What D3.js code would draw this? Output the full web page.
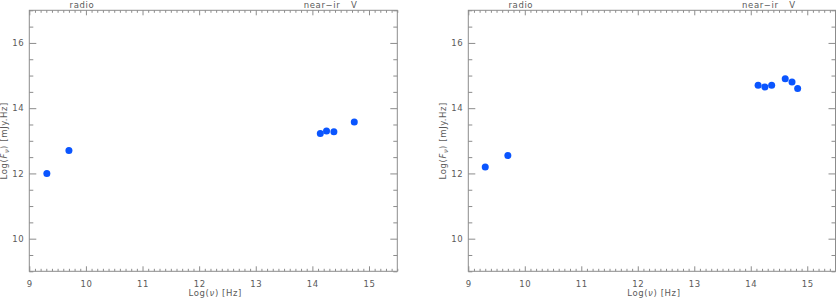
<!DOCTYPE html>
<html><head><meta charset="utf-8">
<script src="https://cdn.jsdelivr.net/npm/d3@7"></script>
<style>
body{margin:0;background:#fff;}
svg{display:block;}
text{font-family:"DejaVu Sans",sans-serif;fill:#5a5a5a;letter-spacing:0.6px;}
</style></head>
<body>
<svg id="c" width="836" height="299"></svg>
<script>
// Data
const xTicks = [9,10,11,12,13,14,15];
const yTicks = [10,12,14,16];
const bandNames = ["radio","near−ir","V"];
const bandPos = [9.93,14.17,14.74];
const leftLogNu  = [9.31,9.70,14.14,14.25,14.38,14.74];
const leftLogF   = [12.00,12.70,13.22,13.30,13.28,13.58];
const rightLogNu = [9.30,9.70,14.13,14.25,14.37,14.61,14.73,14.83];
const rightLogF  = [12.20,12.55,14.70,14.65,14.70,14.90,14.80,14.60];

const svg = d3.select("#c");
const axisCol = "#8c8c8c";
const panels = [
  {x0:29.3, x1:397.3, nu:leftLogNu, f:leftLogF},
  {x0:468.3, x1:835.5, nu:rightLogNu, f:rightLogF}
];
const yTop = 10.3, yBot = 271.3;
const minorX = d3.range(90,156).map(d=>d/10).filter(d=>Math.abs(d-Math.round(d))>1e-6);
const minorY = d3.range(9,17.01,0.5).filter(d=>d%2!==0);

panels.forEach(p=>{
  const x = d3.scaleLinear().domain([9,15.5]).range([p.x0,p.x1]);
  const y = d3.scaleLinear().domain([9,17]).range([yBot,yTop]);
  const g = svg.append("g");
  g.append("rect").attr("x",p.x0).attr("y",yTop).attr("width",p.x1-p.x0).attr("height",yBot-yTop)
    .attr("fill","none").attr("stroke",axisCol).attr("stroke-width",1);
  function styleAxis(sel){
    sel.select(".domain").remove();
    sel.selectAll("line").attr("stroke",axisCol);
    sel.selectAll("text").style("font-size","8.5px").style("fill","#5a5a5a");
  }
  g.append("g").attr("transform",`translate(0,${yBot})`)
    .call(d3.axisBottom(x).tickValues(minorX).tickSize(-2.5).tickFormat("")).call(styleAxis);
  g.append("g").attr("transform",`translate(0,${yBot})`)
    .call(d3.axisBottom(x).tickValues(xTicks).tickSize(-5).tickPadding(10).tickFormat(d3.format("d"))).call(styleAxis);
  g.append("g").attr("transform",`translate(0,${yTop})`)
    .call(d3.axisTop(x).tickValues(minorX).tickSize(-2.5).tickFormat("")).call(styleAxis);
  g.append("g").attr("transform",`translate(0,${yTop})`)
    .call(d3.axisTop(x).tickValues(xTicks).tickSize(-5).tickFormat("")).call(styleAxis);
  g.append("g").attr("transform",`translate(${p.x0},0)`)
    .call(d3.axisLeft(y).tickValues(minorY).tickSize(-4).tickFormat("")).call(styleAxis);
  g.append("g").attr("transform",`translate(${p.x0},0)`)
    .call(d3.axisLeft(y).tickValues(yTicks).tickSize(-7).tickPadding(5).tickFormat(d3.format("d"))).call(styleAxis);
  g.append("g").attr("transform",`translate(${p.x1},0)`)
    .call(d3.axisRight(y).tickValues(minorY).tickSize(-4).tickFormat("")).call(styleAxis);
  g.append("g").attr("transform",`translate(${p.x1},0)`)
    .call(d3.axisRight(y).tickValues(yTicks).tickSize(-7).tickFormat("")).call(styleAxis);
  g.selectAll(".band").data(bandNames).enter().append("text")
    .attr("x",(d,i)=>x(bandPos[i])).attr("y",8).attr("text-anchor","middle")
    .style("font-size","8.5px").text(d=>d);
  const xl = g.append("text").attr("x",(p.x0+p.x1)/2 + 2).attr("y",296).attr("text-anchor","middle")
    .style("font-size","8.5px");
  xl.append("tspan").text("Log(");
  xl.append("tspan").style("font-style","italic").text("ν");
  xl.append("tspan").text(") [Hz]");
  const yl = g.append("text").attr("transform",`translate(${p.x0-22},${(yTop+yBot)/2}) rotate(-90)`)
    .attr("text-anchor","middle").style("font-size","8.5px");
  yl.append("tspan").text("Log(");
  yl.append("tspan").style("font-style","italic").text("F");
  yl.append("tspan").style("font-style","italic").style("font-size","6.5px").attr("dy",2).text("ν");
  yl.append("tspan").attr("dy",-2).text(") [mJy.Hz]");
  g.selectAll("circle").data(p.nu).enter().append("circle")
    .attr("cx",d=>x(d)).attr("cy",(d,i)=>y(p.f[i])).attr("r",3.5).attr("fill","#0a55ff");
});
</script>
</body></html>
